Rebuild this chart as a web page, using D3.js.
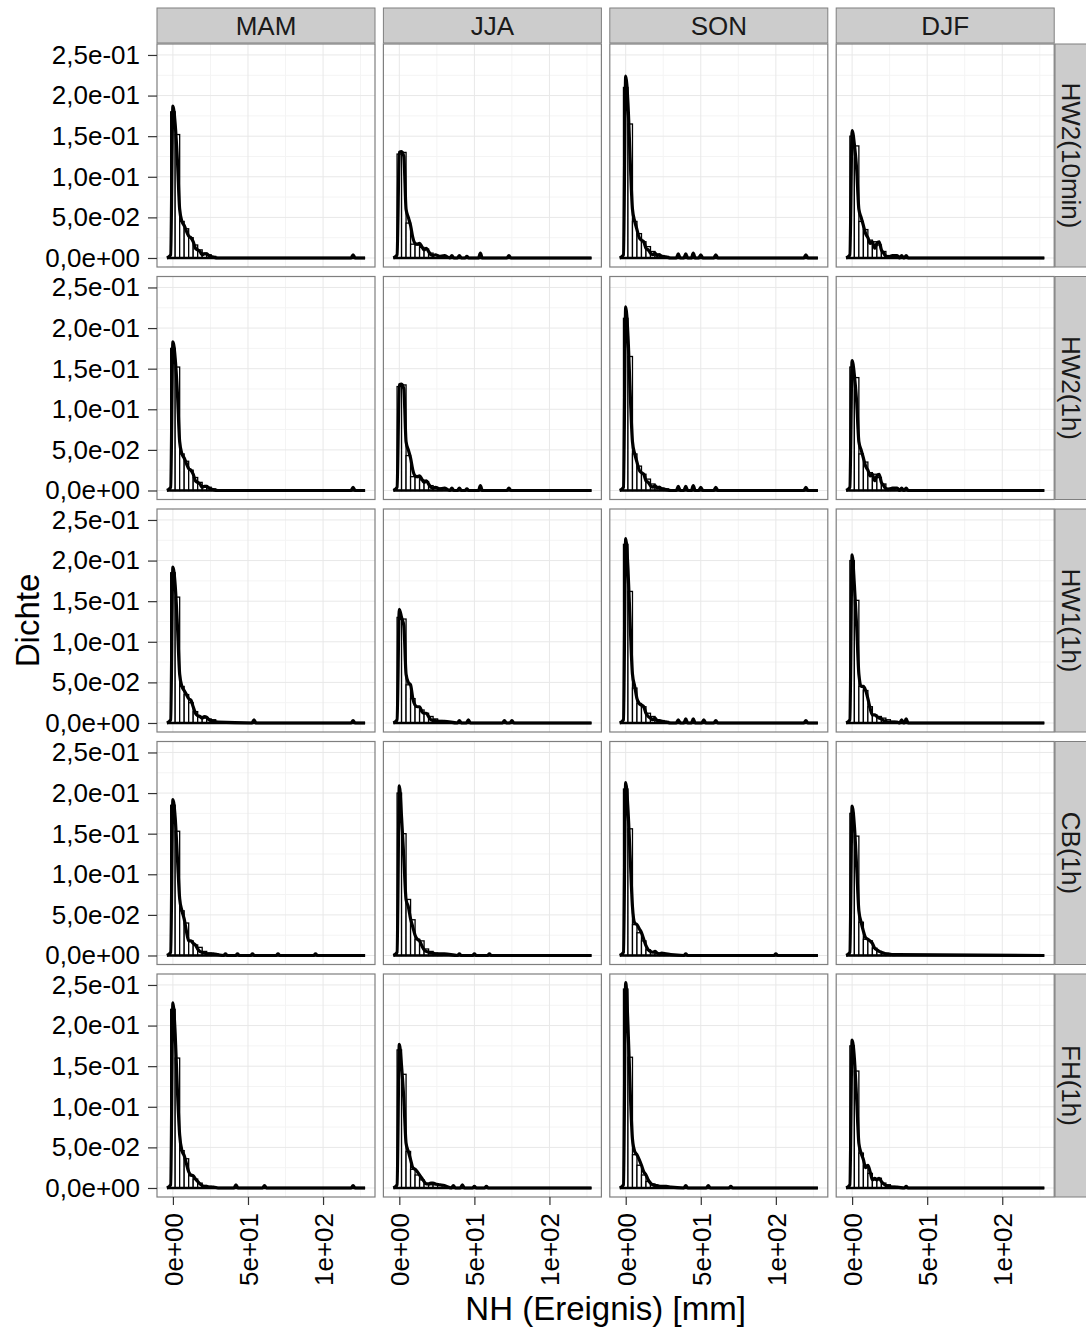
<!DOCTYPE html>
<html><head><meta charset="utf-8">
<script src="https://cdn.jsdelivr.net/npm/d3@7"></script>
<style>body{margin:0;background:#fff}text{font-family:"Liberation Sans",Arial,sans-serif}</style>
</head><body><svg id="c" width="1086" height="1331"></svg>
<script>
const seasons = ["MAM","JJA","SON","DJF"];
const models = ["HW2(10min)","HW2(1h)","HW1(1h)","CB(1h)","FH(1h)"];
const yTicks = [0,0.05,0.1,0.15,0.2,0.25];
const yTickLabels = ["0,0e+00","5,0e-02","1,0e-01","1,5e-01","2,0e-01","2,5e-01"];
const yMinor = [0.025,0.075,0.125,0.175,0.225];
const xTicks = [0,50,100];
const xTickLabels = ["0e+00","5e+01","1e+02"];
const xMinor = [25,75,125];
const binStart = -1.5, binWidth = 3;
const densX = [-4,-1.5,0,1.5,3,4.5,6,7.5,9,10.5,12,13.5,15,16.5,18,19.5,21,22.5,24,27,30];
const densEnd = 128;

// histogram bar heights per season (MAM, JJA, SON, DJF)
const bars_HW2_10min = [
 [0.18,0.152,0.045,0.036,0.025,0.016,0.010,0.006,0.004,0.002],
 [0.128,0.13,0.043,0.017,0.016,0.013,0.011,0.006,0.004,0.003],
 [0.21,0.165,0.045,0.030,0.020,0.014,0.008,0.005,0.003,0.002],
 [0.15,0.138,0.045,0.035,0.022,0.020,0.016,0.008,0.003,0.002]];
const bars_HW2_1h = [
 [0.175,0.152,0.045,0.036,0.025,0.016,0.010,0.006,0.004,0.002],
 [0.128,0.13,0.043,0.017,0.016,0.013,0.011,0.006,0.004,0.003],
 [0.212,0.165,0.045,0.030,0.020,0.014,0.008,0.005,0.003,0.002],
 [0.152,0.139,0.045,0.035,0.022,0.020,0.016,0.008,0.003,0.002]];
const bars_HW1_1h = [
 [0.185,0.155,0.045,0.035,0.025,0.014,0.008,0.006,0.005,0.004],
 [0.13,0.128,0.047,0.030,0.020,0.016,0.012,0.008,0.005,0.003],
 [0.22,0.162,0.043,0.024,0.020,0.012,0.008,0.004,0.003,0.002],
 [0.20,0.151,0.045,0.040,0.020,0.010,0.008,0.006,0.004,0.002]];
const bars_CB_1h = [
 [0.185,0.153,0.055,0.040,0.018,0.013,0.010,0.005,0.003,0.002],
 [0.20,0.15,0.069,0.044,0.020,0.018,0.008,0.005,0.003,0.002],
 [0.205,0.156,0.038,0.028,0.018,0.007,0.004,0.003,0.002,0.001],
 [0.175,0.147,0.041,0.020,0.018,0.009,0.005,0.003,0.002,0.001]];
const bars_FH_1h = [
 [0.22,0.16,0.046,0.036,0.015,0.011,0.006,0.003,0.002,0.001],
 [0.17,0.14,0.045,0.023,0.016,0.010,0.005,0.004,0.004,0.003],
 [0.245,0.161,0.041,0.028,0.016,0.008,0.005,0.003,0.002,0.001],
 [0.175,0.144,0.043,0.028,0.018,0.010,0.012,0.006,0.004,0.002]];

// density values at densX per season
const dens_HW2_10min = [
 [0,0.004,0.187,0.165,0.12,0.06,0.045,0.04,0.033,0.027,0.025,0.02,0.012,0.01,0.008,0.004,0.005,0.005,0.003,0.001,0],
 [0,0.004,0.13,0.131,0.125,0.06,0.05,0.04,0.025,0.018,0.017,0.018,0.014,0.01,0.012,0.008,0.004,0.003,0.004,0.002,0.003],
 [0,0.004,0.224,0.19,0.12,0.06,0.045,0.035,0.025,0.022,0.02,0.012,0.01,0.006,0.004,0.006,0.003,0.004,0.002,0.001,0],
 [0,0.004,0.157,0.14,0.11,0.06,0.05,0.04,0.03,0.025,0.018,0.02,0.012,0.018,0.02,0.01,0.006,0.002,0.001,0.003,0.003]];
const dens_HW2_1h = [
 [0,0.004,0.183,0.163,0.12,0.06,0.045,0.04,0.033,0.027,0.025,0.02,0.012,0.01,0.008,0.004,0.005,0.005,0.003,0.001,0],
 [0,0.004,0.13,0.131,0.125,0.06,0.05,0.04,0.025,0.018,0.017,0.018,0.014,0.01,0.012,0.008,0.004,0.003,0.004,0.002,0.003],
 [0,0.004,0.226,0.19,0.12,0.06,0.045,0.035,0.025,0.022,0.02,0.012,0.01,0.006,0.004,0.006,0.003,0.004,0.002,0.001,0],
 [0,0.004,0.16,0.142,0.11,0.06,0.05,0.04,0.03,0.025,0.018,0.02,0.012,0.018,0.02,0.01,0.006,0.002,0.001,0.003,0.003]];
const dens_HW1_1h = [
 [0,0.004,0.192,0.17,0.12,0.06,0.045,0.04,0.035,0.03,0.028,0.02,0.012,0.009,0.008,0.006,0.008,0.007,0.004,0.002,0.001],
 [0,0.004,0.14,0.13,0.12,0.06,0.05,0.047,0.03,0.022,0.02,0.02,0.014,0.012,0.012,0.008,0.004,0.003,0.003,0.002,0.002],
 [0,0.004,0.227,0.19,0.12,0.06,0.045,0.03,0.024,0.022,0.02,0.012,0.008,0.006,0.004,0.006,0.003,0.003,0.002,0.001,0],
 [0,0.004,0.207,0.17,0.12,0.06,0.045,0.045,0.04,0.03,0.018,0.01,0.01,0.008,0.006,0.005,0.003,0.002,0.001,0.001,0.001]];
const dens_CB_1h = [
 [0,0.004,0.192,0.17,0.12,0.07,0.055,0.045,0.03,0.018,0.018,0.015,0.013,0.008,0.005,0.004,0.003,0.002,0.002,0.002,0.001],
 [0,0.004,0.209,0.17,0.12,0.069,0.06,0.045,0.035,0.025,0.02,0.018,0.012,0.007,0.005,0.004,0.003,0.003,0.002,0.002,0.002],
 [0,0.004,0.213,0.18,0.12,0.06,0.04,0.038,0.033,0.028,0.02,0.012,0.007,0.005,0.004,0.005,0.003,0.002,0.003,0.002,0.001],
 [0,0.004,0.184,0.16,0.11,0.055,0.041,0.03,0.022,0.02,0.018,0.015,0.009,0.007,0.005,0.004,0.003,0.002,0.002,0.001,0.001]];
const dens_FH_1h = [
 [0,0.004,0.228,0.19,0.12,0.065,0.046,0.04,0.03,0.02,0.016,0.015,0.011,0.008,0.005,0.003,0.002,0.002,0.001,0.001,0],
 [0,0.004,0.177,0.15,0.11,0.055,0.045,0.035,0.025,0.023,0.02,0.016,0.012,0.008,0.005,0.005,0.006,0.006,0.005,0.004,0.003],
 [0,0.004,0.253,0.2,0.12,0.06,0.045,0.041,0.035,0.028,0.02,0.016,0.01,0.006,0.004,0.003,0.003,0.002,0.002,0.002,0.001],
 [0,0.004,0.182,0.16,0.11,0.055,0.043,0.035,0.025,0.028,0.02,0.01,0.012,0.01,0.012,0.008,0.005,0.003,0.002,0.001,0.001]];

// small isolated density bumps in the tail [x, density]
const blips_HW2_10min = [[[120,0.004]],[[35,0.003],[40,0.003],[45,0.002],[54,0.006],[73,0.003]],[[35,0.005],[40,0.005],[45,0.006],[50,0.004],[60,0.004],[120,0.004]],[[33,0.003],[36,0.003]]];
const blips_HW2_1h = [[[120,0.004]],[[35,0.003],[40,0.003],[45,0.002],[54,0.006],[73,0.003]],[[35,0.005],[40,0.005],[45,0.006],[50,0.004],[60,0.004],[120,0.004]],[[33,0.003],[36,0.003]]];
const blips_HW1_1h = [[[54,0.004],[120,0.003]],[[40,0.003],[46,0.004],[70,0.003],[75,0.003]],[[35,0.004],[40,0.005],[45,0.005],[52,0.004],[60,0.003],[120,0.003]],[[33,0.004],[36,0.005]]];
const blips_CB_1h = [[[35,0.002],[43,0.002],[53,0.002],[70,0.002],[95,0.002]],[[40,0.002],[50,0.002],[60,0.002]],[[40,0.002],[100,0.002]],[]];
const blips_FH_1h = [[[42,0.004],[61,0.003],[120,0.003]],[[36,0.003],[42,0.004],[50,0.002],[58,0.002]],[[40,0.003],[55,0.003],[70,0.002]],[[36,0.002]]];

const barsByRow = [bars_HW2_10min,bars_HW2_1h,bars_HW1_1h,bars_CB_1h,bars_FH_1h];
const densByRow = [dens_HW2_10min,dens_HW2_1h,dens_HW1_1h,dens_CB_1h,dens_FH_1h];
const blipsByRow = [blips_HW2_10min,blips_HW2_1h,blips_HW1_1h,blips_CB_1h,blips_FH_1h];

const svg = d3.select("#c");
const pL = 157, pStep = 226.4, pW = 218;
const pT = 44, rStep = 232.5, pH = 223;
const fs = 26;
const x = d3.scaleLinear().domain([-10.6,134.6]).range([0,pW]);
const y = d3.scaleLinear().domain([-0.0111,0.2635]).range([pH,0]);
const line = d3.line().x(d=>x(d[0])).y(d=>y(d[1])).curve(d3.curveMonotoneX);

models.forEach((m,r)=>{
  const top = pT + r*rStep;
  seasons.forEach((s,c)=>{
    const left = pL + c*pStep;
    const g = svg.append("g").attr("transform",`translate(${left},${top})`);
    g.append("rect").attr("width",pW).attr("height",pH).attr("fill","#fff");
    g.selectAll(".mny").data(yMinor).join("line").attr("x1",0).attr("x2",pW)
      .attr("y1",d=>y(d)).attr("y2",d=>y(d)).attr("stroke","#f4f4f4").attr("stroke-width",1);
    g.selectAll(".mnx").data(xMinor).join("line").attr("y1",0).attr("y2",pH)
      .attr("x1",d=>x(d)).attr("x2",d=>x(d)).attr("stroke","#f4f4f4").attr("stroke-width",1);
    g.selectAll(".mjy").data(yTicks).join("line").attr("x1",0).attr("x2",pW)
      .attr("y1",d=>y(d)).attr("y2",d=>y(d)).attr("stroke","#e8e8e8").attr("stroke-width",1);
    g.selectAll(".mjx").data(xTicks).join("line").attr("y1",0).attr("y2",pH)
      .attr("x1",d=>x(d)).attr("x2",d=>x(d)).attr("stroke","#e8e8e8").attr("stroke-width",1);

    const bars = barsByRow[r][c];
    g.selectAll(".bar").data(bars).join("rect")
      .attr("x",(d,i)=>x(binStart+i*binWidth))
      .attr("width",x(binWidth)-x(0))
      .attr("y",d=>y(d)).attr("height",d=>y(0)-y(d))
      .attr("fill","#fff").attr("stroke","#000").attr("stroke-width",1.3);

    let pts = densX.map((xv,i)=>[xv,densByRow[r][c][i]]);
    blipsByRow[r][c].forEach(b=>{pts.push([b[0]-1.3,0],[b[0],b[1]],[b[0]+1.3,0]);});
    pts.push([densEnd,0]);
    pts.sort((a,b)=>a[0]-b[0]);
    g.append("line").attr("x1",x(-4)).attr("x2",x(densEnd)).attr("y1",y(0)).attr("y2",y(0))
      .attr("stroke","#000").attr("stroke-width",2.5);
    g.append("path").attr("d",line(pts)).attr("fill","none").attr("stroke","#000")
      .attr("stroke-width",3.2).attr("stroke-linejoin","round");

    g.append("rect").attr("width",pW).attr("height",pH).attr("fill","none").attr("stroke","#7f7f7f").attr("stroke-width",1.2);

    if(c===0){
      const ax = g.append("g").call(d3.axisLeft(y).tickValues(yTicks).tickFormat((d,i)=>yTickLabels[i]).tickSize(9).tickPadding(8));
      ax.select(".domain").remove();
      ax.selectAll("line").attr("stroke","#333").attr("stroke-width",1.2);
      ax.selectAll("text").attr("font-size",fs).attr("fill","#000").attr("font-family","Liberation Sans, Arial, sans-serif");
    }
    if(r===models.length-1){
      const ax = g.append("g").attr("transform",`translate(0,${pH})`)
        .call(d3.axisBottom(x).tickValues(xTicks).tickFormat((d,i)=>xTickLabels[i]).tickSize(8).tickPadding(5));
      ax.select(".domain").remove();
      ax.selectAll("line").attr("stroke","#333").attr("stroke-width",1.2);
      ax.selectAll("text").attr("font-size",fs).attr("fill","#000").attr("font-family","Liberation Sans, Arial, sans-serif")
        .attr("transform","rotate(-90)").attr("text-anchor","end").attr("x",-16).attr("y",0).attr("dy","0.36em");
    }
    if(r===0){
      svg.append("rect").attr("x",left).attr("y",8).attr("width",pW).attr("height",35)
        .attr("fill","#cccccc").attr("stroke","#7f7f7f").attr("stroke-width",1);
      svg.append("text").attr("x",left+pW/2).attr("y",26).attr("dy","0.36em").attr("text-anchor","middle")
        .attr("font-size",fs).attr("fill","#1a1a1a").text(s);
    }
  });
  svg.append("rect").attr("x",1055).attr("y",top).attr("width",40).attr("height",pH)
    .attr("fill","#cccccc").attr("stroke","#7f7f7f").attr("stroke-width",1);
  svg.append("text").attr("transform",`translate(1071,${top+pH/2}) rotate(90)`).attr("dy","0.36em")
    .attr("text-anchor","middle").attr("font-size",fs).attr("fill","#1a1a1a").text(m);
});

svg.append("text").attr("transform",`translate(27,${pT+(4*rStep+pH)/2}) rotate(-90)`).attr("dy","0.36em")
  .attr("text-anchor","middle").attr("font-size",33).attr("fill","#000").text("Dichte");
svg.append("text").attr("x",pL+(3*pStep+pW)/2).attr("y",1320).attr("text-anchor","middle")
  .attr("font-size",33).attr("fill","#000").text("NH (Ereignis) [mm]");
</script></body></html>
